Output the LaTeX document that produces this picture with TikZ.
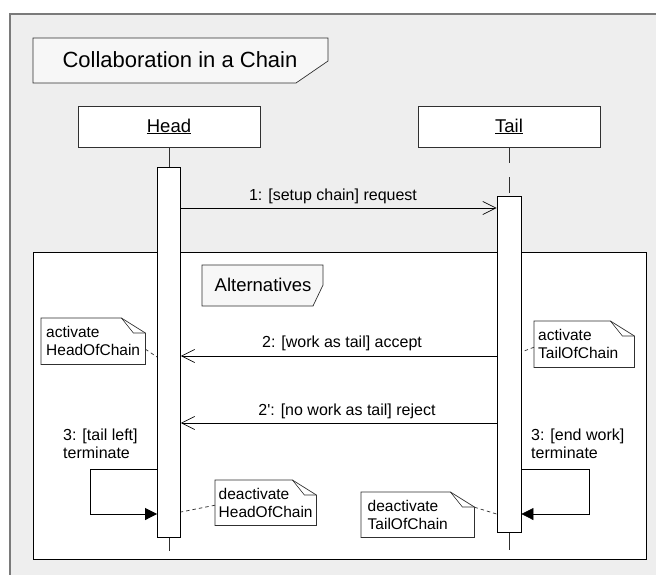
\documentclass[tikz,border=0pt]{standalone}
\usepackage{fontspec}
\setmainfont{Liberation Sans}
\usetikzlibrary{arrows.meta,calc}
\definecolor{bggray}{HTML}{EEEEEE}
\definecolor{framegray}{HTML}{7A7A7A}
\definecolor{tabfill}{HTML}{F7F7F7}
\definecolor{edge}{HTML}{303030}
\newcommand\notefold[1]{%
  \draw[edge,line width=0.7pt] (#1.north west) -- ([xshift=-24pt]#1.north east) -- ([yshift=-15pt]#1.north east) -- (#1.south east) -- (#1.south west) -- cycle;
  \draw[edge,line width=0.6pt] ([xshift=-24pt]#1.north east) -- ([xshift=-12pt,yshift=-15pt]#1.north east) -- ([yshift=-15pt]#1.north east);}
\begin{document}
\begin{tikzpicture}[x=1pt,y=-1pt,
  obj/.style={draw=edge,fill=white,line width=0.7pt,minimum width=182pt,minimum height=41pt,inner sep=0pt,font=\fontsize{18.5}{20}\selectfont},
  act/.style={draw=black,fill=white,line width=0.8pt,inner sep=0pt,anchor=north},
  msg/.style={draw=black,line width=0.7pt,-{Straight Barb[length=13pt,width=13pt,line width=0.7pt]}},
  selfmsg/.style={draw=black,line width=0.7pt,-{Triangle[length=12pt,width=12pt]}},
  lbl/.style={inner sep=0pt,font=\fontsize{16}{18}\selectfont},
  note/.style={inner sep=0pt,anchor=north west,align=left,font=\fontsize{15.5}{18}\selectfont},
  conn/.style={draw=edge,line width=0.7pt,dash pattern=on 3.5pt off 3pt},
  lifeline/.style={draw=edge,line width=0.7pt}]
\useasboundingbox (0,0) rectangle (656,574);
\clip (0,0) rectangle (656,574);
% outer frame
\fill[bggray] (10,14) rectangle (680,600);
\draw[framegray,line width=1.4pt] (680,14) -- (10,14) -- (10,600);
% title tab
\draw[edge,fill=tabfill,line width=0.7pt] (33,38) -- (328,38) -- (328,61) -- (296,83) -- (33,83) -- cycle;
\node[inner sep=0pt,font=\fontsize{22}{26}\selectfont] (title) at (180,60) {Collaboration in a Chain};
% objects
\node[obj] (head) at (169,126.5) {\underline{Head}};
\node[obj] (tail) at (509,126.5) {\underline{Tail}};
% inner frame
\draw[black,fill=white,line width=0.9pt] (33,252) rectangle (646,559);
% activations
\node[act,minimum width=23pt,minimum height=370pt] (hact) at (169,167) {};
\node[act,minimum width=24pt,minimum height=336pt] (tact) at (509,196) {};
\coordinate (hend) at (169,551);
\coordinate (tend) at (509,550);
% lifelines
\draw[lifeline] (head.south) -- (hact.north);
\draw[lifeline,dash pattern=on 16pt off 14pt] (tail.south) -- (tact.north);
\draw[lifeline] (hact.south) -- (hend);
\draw[lifeline] (tact.south) -- (tend);
% alternatives tab
\draw[edge,fill=tabfill,line width=0.7pt] (202,265) -- (323,265) -- (323,285) -- (313,306) -- (202,306) -- cycle;
\node[inner sep=0pt,font=\fontsize{18.5}{20}\selectfont] (alt) at (263,285) {Alternatives};
% messages
\draw[msg] ([yshift=-41pt]hact.north east) -- ([yshift=-12pt]tact.north west);
\node[lbl] (m1) at (333,196) {1: [setup chain] request};
\draw[msg] ([yshift=-160pt]tact.north west) -- ([yshift=-189pt]hact.north east);
\node[lbl] (m2) at (342,343) {2: [work as tail] accept};
\draw[msg] ([yshift=-227pt]tact.north west) -- ([yshift=-256pt]hact.north east);
\node[lbl] (m3) at (347,411) {2\textquotesingle: [no work as tail] reject};
% self messages
\coordinate (hl) at (90,469);
\coordinate (tr) at (589,469);
\coordinate (ha) at ([yshift=-302pt]hact.north west);
\coordinate (hb) at ([yshift=-347pt]hact.north west);
\coordinate (ta) at ([yshift=-273pt]tact.north east);
\coordinate (tb) at ([yshift=-318pt]tact.north east);
\draw[selfmsg] (ha) -- (ha -| hl) -- (hb -| hl) -- (hb);
\draw[selfmsg] (ta) -- (ta -| tr) -- (tb -| tr) -- (tb);
\node[lbl,anchor=north west,align=left] (s1) at (63,429) {3: [tail left]\\terminate};
\node[lbl,anchor=north west,align=left] (s2) at (531,429) {3: [end work]\\terminate};
% notes
\node[note,minimum width=104pt,minimum height=46pt,text width=94pt] (n1) at (41,318) {activate\\HeadOfChain};
\notefold{n1}
\node[note,minimum width=100pt,minimum height=46pt,text width=92pt] (n2) at (534,321) {activate\\TailOfChain};
\notefold{n2}
\node[note,minimum width=101pt,minimum height=45pt,text width=94pt] (n3) at (215,480) {deactivate\\HeadOfChain};
\notefold{n3}
\node[note,minimum width=113pt,minimum height=45pt,text width=100pt] (n4) at (361,492) {deactivate\\TailOfChain};
\notefold{n4}
% note connectors
\draw[conn] ([yshift=-8pt]n1.east) -- ([yshift=-190pt]hact.north west);
\draw[conn] ([yshift=-3pt]n2.west) -- ([yshift=-156pt]tact.north east);
\draw[conn] ([yshift=-2.5pt]n3.west) -- ([yshift=-345pt]hact.north east);
\draw[conn] ([yshift=7.5pt]n4.east) -- ([yshift=-318pt]tact.north west);
\end{tikzpicture}
\end{document}
